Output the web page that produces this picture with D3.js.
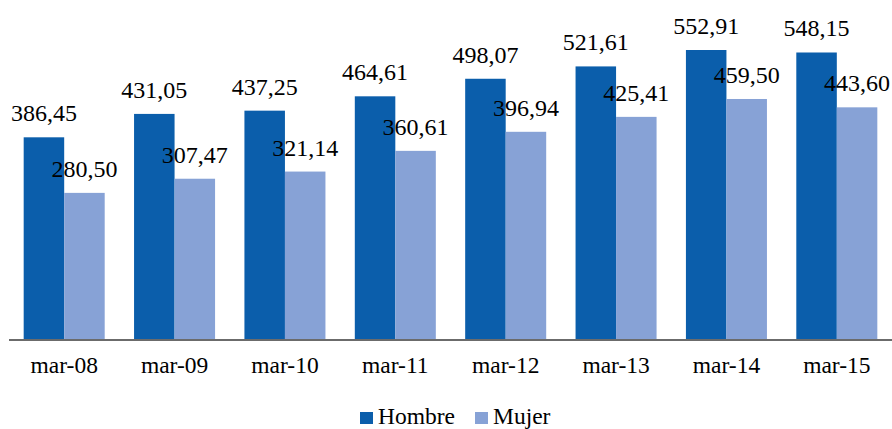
<!DOCTYPE html>
<html>
<head>
<meta charset="utf-8">
<script src="https://cdn.jsdelivr.net/npm/d3@7"></script>
</head>
<body style="margin:0">
<div id="container"></div>
<script>
var categories = ["mar-08", "mar-09", "mar-10", "mar-11", "mar-12", "mar-13", "mar-14", "mar-15"];
var seriesNames = ["Hombre", "Mujer"];
var hombre = [386.45, 431.05, 437.25, 464.61, 498.07, 521.61, 552.91, 548.15];
var mujer = [280.50, 307.47, 321.14, 360.61, 396.94, 425.41, 459.50, 443.60];
var colors = ["#0b5eab", "#87a2d6"];

var width = 892, height = 429;
var baseline = 340;
var FONT = "Liberation Serif";

const svg = d3.select("div#container").append("svg")
    .attr("width", width)
    .attr("height", height);

const x = d3.scaleBand().domain(categories).range([9, 892]).paddingInner(0.266).paddingOuter(0.133);
const sub = d3.scaleBand().domain(seriesNames).range([0, x.bandwidth()]);
const y = d3.scaleLinear().domain([0, 600]).range([baseline, baseline - 600 * 0.5245]);

const fmt = v => v.toFixed(2).replace(".", ",");

const rows = categories.map((c, i) => ({ cat: c, values: [hombre[i], mujer[i]] }));

const group = svg.append("g")
    .selectAll("g")
    .data(rows)
    .join("g")
    .attr("transform", d => "translate(" + x(d.cat) + ",0)");

group.selectAll("rect")
    .data(d => d.values.map((v, j) => ({ name: seriesNames[j], value: v, j: j })))
    .join("rect")
    .attr("x", d => sub(d.name))
    .attr("width", sub.bandwidth())
    .attr("y", d => y(d.value))
    .attr("height", d => baseline - y(d.value))
    .attr("fill", d => colors[d.j]);

// labels drawn after all bars so they sit on top
svg.append("g")
    .selectAll("text")
    .data(rows.flatMap(r => r.values.map((v, j) => ({ cat: r.cat, name: seriesNames[j], value: v }))))
    .join("text")
    .attr("x", d => x(d.cat) + sub(d.name) + sub.bandwidth() / 2)
    .attr("y", d => y(d.value) - 16)
    .attr("text-anchor", "middle")
    .attr("font-family", FONT)
    .attr("font-size", 24)
    .attr("fill", "#000")
    .text(d => fmt(d.value));

// axis
const axis = svg.append("g")
    .attr("transform", "translate(0," + baseline + ")")
    .call(d3.axisBottom(x).tickSize(0).tickPadding(16));
axis.select(".domain").attr("stroke", "#6b6b6b").attr("stroke-width", 2).attr("d", "M9,0H892");
axis.selectAll("text")
    .attr("font-family", FONT)
    .attr("font-size", 23.5)
    .attr("fill", "#000");

// legend
const legendX = [360, 475];
const legend = svg.append("g")
    .selectAll("g")
    .data(seriesNames)
    .join("g")
    .attr("transform", (d, i) => "translate(" + legendX[i] + ",412)");
legend.append("rect")
    .attr("width", 13)
    .attr("height", 12)
    .attr("fill", (d, i) => colors[i]);
legend.append("text")
    .attr("x", 18)
    .attr("y", 12)
    .attr("font-family", FONT)
    .attr("font-size", 23.5)
    .attr("fill", "#000")
    .text(d => d);
</script>
</body>
</html>
